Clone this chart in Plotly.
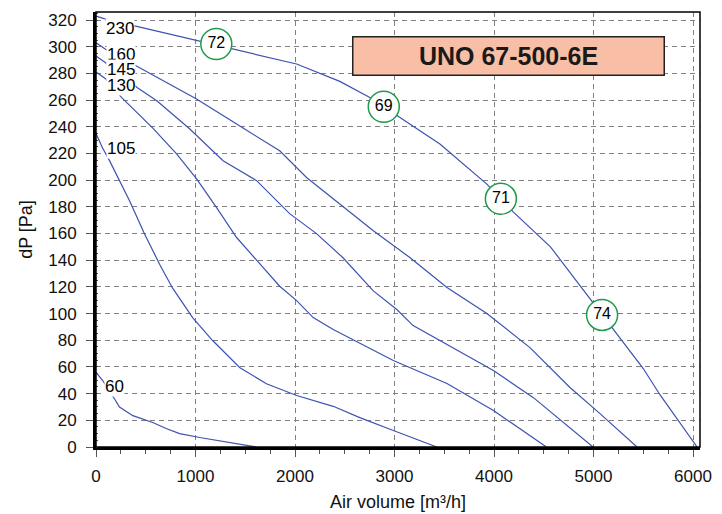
import plotly.graph_objects as go

# fan curves, air volume [m3/h] vs dP [Pa], one per speed label
x_230 = [0, 80, 420, 1040, 1375, 2016, 2450, 2752, 2892, 3053, 3456, 3928, 4069, 4195, 4567, 4965, 5086, 5196, 5498, 5669, 6041]
y_230 = [323, 321, 315, 304, 298, 287, 274, 262, 255, 247, 227, 197, 186, 176, 150, 111, 99, 89, 59, 39, 0]

x_160 = [0, 96, 420, 1006, 1478, 1846, 2116, 2450, 2787, 3154, 3527, 3928, 4361, 4763, 5065, 5437]
y_160 = [303, 298, 285, 261, 239, 222, 202, 182, 162, 142, 119.5, 100, 74.5, 44.6, 25, 0]

x_145 = [0, 96, 420, 611, 940, 1277, 1614, 1946, 2216, 2480, 2787, 3023, 3187, 3691, 3994, 4396, 4995]
y_145 = [293, 288, 269, 259.5, 238.5, 214.6, 199.6, 174.9, 159.9, 142, 117, 103, 91, 69.9, 57.3, 37, 0]

x_130 = [0, 96, 256, 571, 810, 1011, 1212, 1413, 1645, 1846, 2016, 2183, 2384, 2651, 2988, 3527, 3994, 4527]
y_130 = [281, 276, 262, 239, 219.7, 201, 179.4, 157, 137.4, 120.5, 109.7, 97, 88, 78, 64.8, 47.6, 27.3, 0]

x_105 = [0, 66, 136, 337, 488, 639, 770, 971, 1172, 1443, 1713, 2016, 2384, 2651, 2988, 3425]
y_105 = [235, 224, 214.6, 184.6, 159.7, 137, 119, 97, 79.8, 59.6, 47.4, 38.6, 30.5, 22, 12.4, 0]

x_60 = [0, 66, 187, 236, 370, 570, 705, 840, 1041, 1375, 1610]
y_60 = [56, 50, 36, 30, 23.5, 18.4, 13.9, 10, 7.1, 2.6, 0]

# efficiency points on the top curve
eff_x = [1209, 2892, 4069, 5086]
eff_y = [302, 255, 186, 99]
eff_txt = ["72", "69", "71", "74"]

curves = [
    ("230", x_230, y_230),
    ("160", x_160, y_160),
    ("145", x_145, y_145),
    ("130", x_130, y_130),
    ("105", x_105, y_105),
    ("60", x_60, y_60),
]

# where the speed labels sit (data coords)
label_pos = {
    "230": (240, 314),
    "160": (248, 294),
    "145": (248, 283),
    "130": (248, 271),
    "105": (248, 224),
    "60": (190, 45),
}

font = "Liberation Sans, Arial, sans-serif"
blue = "#3d52b0"

fig = go.Figure()
for name, xs, ys in curves:
    fig.add_trace(go.Scatter(x=xs, y=ys, mode="lines", name=name,
                             line=dict(color=blue, width=1.2), hoverinfo="skip"))

fig.add_trace(go.Scatter(
    x=eff_x, y=eff_y, mode="markers+text", text=eff_txt,
    textposition="middle center", textfont=dict(size=16, color="black", family=font),
    marker=dict(size=31, color="white", line=dict(color="#1f9a4a", width=1.5)),
    hoverinfo="skip"))

for name, _, _ in curves:
    lx, ly = label_pos[name]
    fig.add_annotation(x=lx, y=ly, text=name, showarrow=False, bgcolor="white",
                       borderpad=0, font=dict(size=17, color="black", family=font))

fig.add_annotation(xref="paper", yref="paper", x=0.683, y=0.899,
                   xanchor="center", yanchor="middle", text="<b>UNO 67-500-6E</b>",
                   showarrow=False, width=308, height=35, bgcolor="#f9bfa6",
                   bordercolor="#222222", borderwidth=1.5,
                   font=dict(size=25, color="#1a1a1a", family=font))

# thin frame on top/right
fig.add_shape(type="rect", xref="paper", yref="paper", x0=0, y0=0, x1=1, y1=1,
              line=dict(color="black", width=1.5))

grid = dict(showgrid=True, gridcolor="#808080", gridwidth=1.3, griddash="5px,4px",
            showline=True, linecolor="black", linewidth=3, zeroline=False,
            ticks="outside", ticklen=7, tickcolor="#555", automargin=False,
            tickfont=dict(size=17, color="#111", family=font))

fig.update_xaxes(range=[0, 6070], dtick=1000, tick0=0, ticklabelstandoff=5,
                 minor=dict(dtick=250, ticks="outside", ticklen=4, tickcolor="#555", showgrid=False),
                 title=dict(text="Air volume [m³/h]", font=dict(size=18, color="#111", family=font), standoff=10),
                 **grid)
fig.update_yaxes(range=[0, 326], dtick=20, tick0=0, ticklabelstandoff=6,
                 minor=dict(dtick=5, ticks="inside", ticklen=2, tickcolor="#555", showgrid=False),
                 title=dict(text="dP [Pa]", font=dict(size=18, color="#111", family=font), standoff=11),
                 **grid)

# page body adds an 8px offset, margins compensate
fig.update_layout(width=722, height=514, showlegend=False,
                  margin=dict(l=88, r=30, t=4, b=75),
                  plot_bgcolor="white", paper_bgcolor="white")

fig.write_html("out.html")
